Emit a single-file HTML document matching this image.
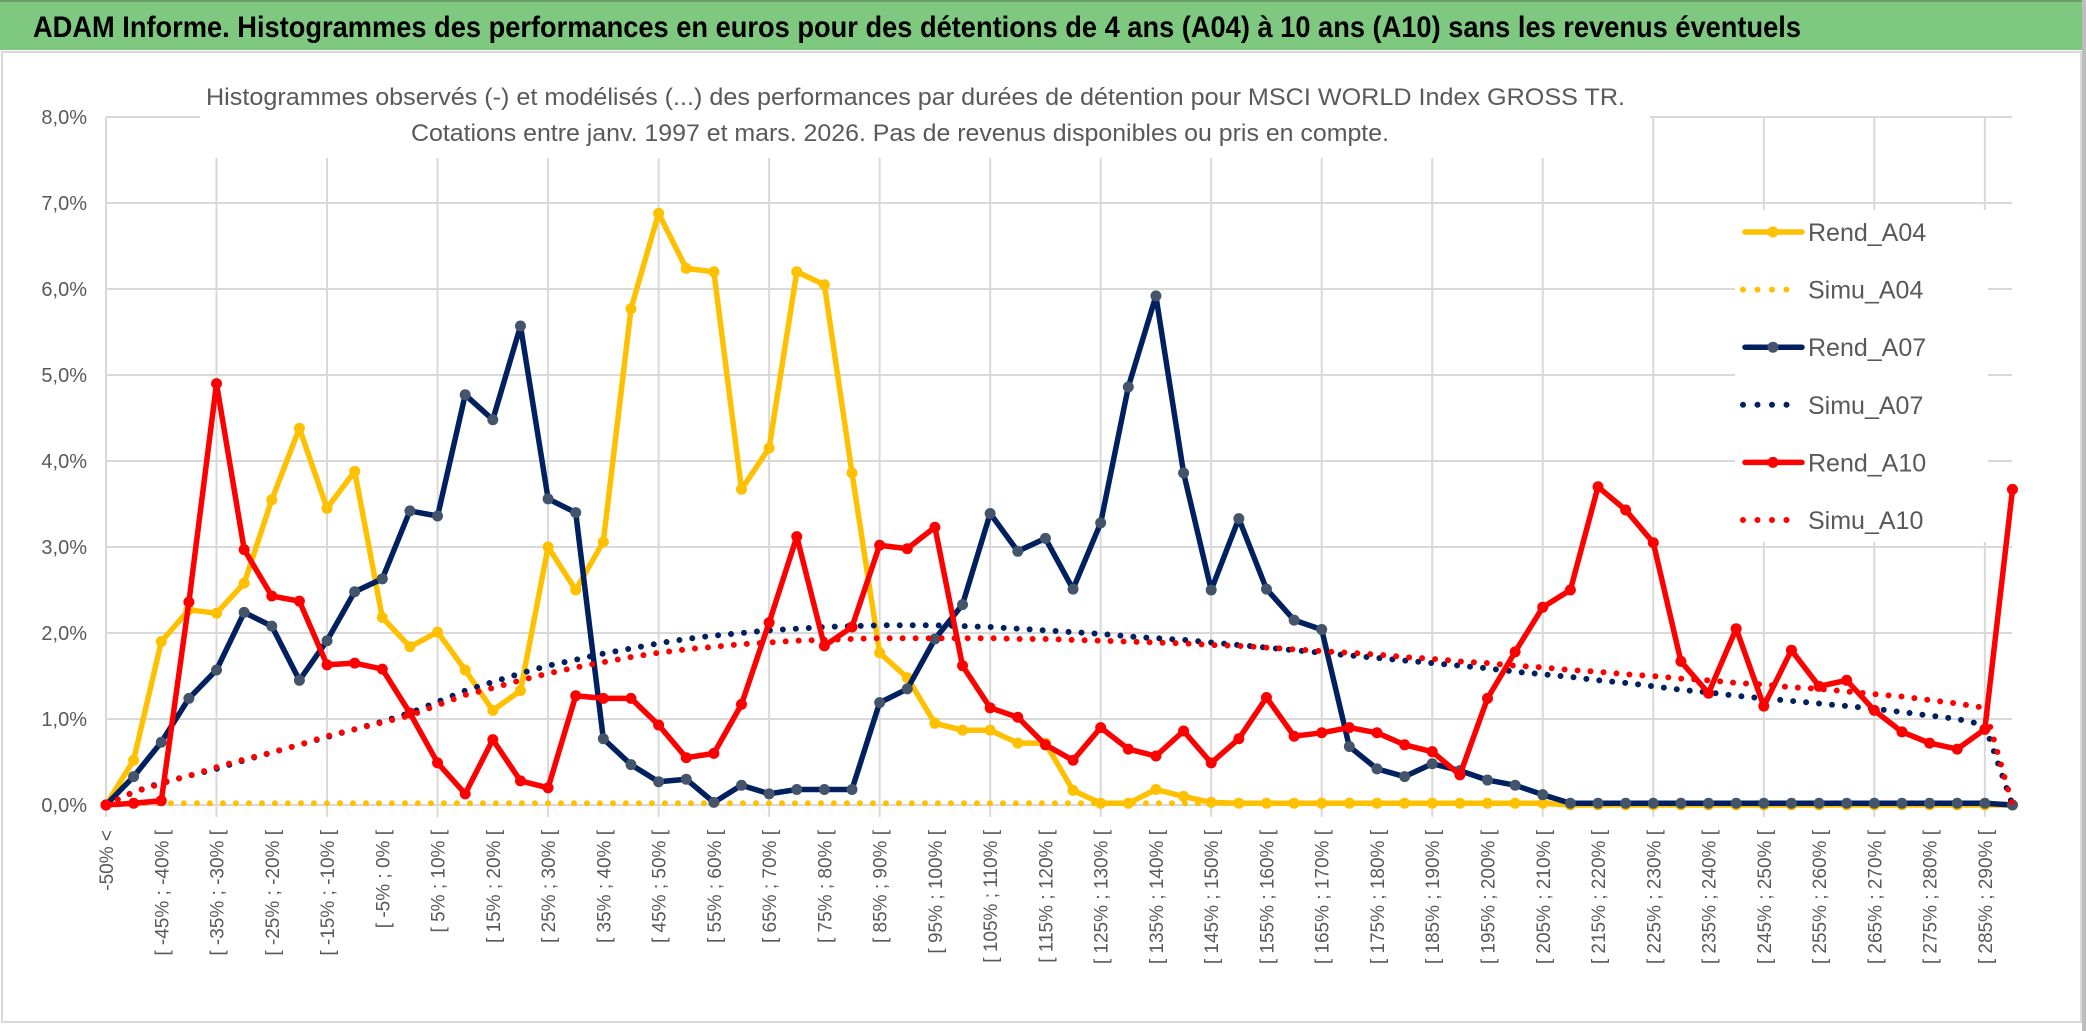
<!DOCTYPE html>
<html><head><meta charset="utf-8"><style>
html,body{margin:0;padding:0;background:#fff;}
svg{display:block;font-family:"Liberation Sans",sans-serif;}
</style></head><body>
<svg id="chart" width="2086" height="1031" viewBox="0 0 2086 1031">
<rect x="0" y="0" width="2086" height="1031" fill="#ffffff"/>
<rect x="0" y="0" width="2086" height="50" fill="#7ec87f"/>
<line x1="0" y1="1" x2="2086" y2="1" stroke="#6a9e6b" stroke-width="2"/>
<text x="33" y="37" font-size="30" font-weight="bold" fill="#000" textLength="1768" lengthAdjust="spacingAndGlyphs">ADAM Informe. Histogrammes des performances en euros pour des détentions de 4 ans (A04) à 10 ans (A10) sans les revenus éventuels</text>
<rect x="2" y="52" width="2079" height="970" fill="none" stroke="#d9d9d9" stroke-width="2"/>
<rect x="2082" y="0" width="4" height="1031" fill="#bdbdbd"/>
<g id="grid"></g>
<rect x="200" y="60" width="1450" height="98" fill="#fff"/>
<text x="206" y="105" font-size="24" fill="#595959" textLength="1419" lengthAdjust="spacingAndGlyphs">Histogrammes observés (-) et modélisés (...) des performances par durées de détention pour MSCI WORLD Index GROSS TR.</text>
<text x="411" y="141" font-size="24" fill="#595959" textLength="978" lengthAdjust="spacingAndGlyphs">Cotations entre janv. 1997 et mars. 2026. Pas de revenus disponibles ou pris en compte.</text>
<g id="series"></g>
<g id="xlabels"></g>
<g id="legend"></g>
</svg>
<script>
const categories = ["-50% <","[ -50% ; -45% [","[ -45% ; -40% [","[ -40% ; -35% [","[ -35% ; -30% [","[ -30% ; -25% [","[ -25% ; -20% [","[ -20% ; -15% [","[ -15% ; -10% [","[ -10% ; -5% [","[ -5% ; 0% [","[ 0% ; 5% [","[ 5% ; 10% [","[ 10% ; 15% [","[ 15% ; 20% [","[ 20% ; 25% [","[ 25% ; 30% [","[ 30% ; 35% [","[ 35% ; 40% [","[ 40% ; 45% [","[ 45% ; 50% [","[ 50% ; 55% [","[ 55% ; 60% [","[ 60% ; 65% [","[ 65% ; 70% [","[ 70% ; 75% [","[ 75% ; 80% [","[ 80% ; 85% [","[ 85% ; 90% [","[ 90% ; 95% [","[ 95% ; 100% [","[ 100% ; 105% [","[ 105% ; 110% [","[ 110% ; 115% [","[ 115% ; 120% [","[ 120% ; 125% [","[ 125% ; 130% [","[ 130% ; 135% [","[ 135% ; 140% [","[ 140% ; 145% [","[ 145% ; 150% [","[ 150% ; 155% [","[ 155% ; 160% [","[ 160% ; 165% [","[ 165% ; 170% [","[ 170% ; 175% [","[ 175% ; 180% [","[ 180% ; 185% [","[ 185% ; 190% [","[ 190% ; 195% [","[ 195% ; 200% [","[ 200% ; 205% [","[ 205% ; 210% [","[ 210% ; 215% [","[ 215% ; 220% [","[ 220% ; 225% [","[ 225% ; 230% [","[ 230% ; 235% [","[ 235% ; 240% [","[ 240% ; 245% [","[ 245% ; 250% [","[ 250% ; 255% [","[ 255% ; 260% [","[ 260% ; 265% [","[ 265% ; 270% [","[ 270% ; 275% [","[ 275% ; 280% [","[ 280% ; 285% [","[ 285% ; 290% [","[ 290% ; 295% ["];
const yTicks = [0,1,2,3,4,5,6,7,8];
const yTickLabels = ["0,0%","1,0%","2,0%","3,0%","4,0%","5,0%","6,0%","7,0%","8,0%"];
const rendA04 = [0,0.52,1.90,2.27,2.23,2.58,3.55,4.38,3.45,3.88,2.18,1.84,2.01,1.57,1.10,1.33,3.00,2.50,3.06,5.77,6.88,6.24,6.20,3.67,4.15,6.20,6.05,3.86,1.77,1.48,0.95,0.87,0.87,0.72,0.72,0.17,0.02,0.02,0.18,0.10,0.03,0.02,0.02,0.02,0.02,0.02,0.02,0.02,0.02,0.02,0.02,0.02,0.02,0,0,0,0,0,0,0,0,0,0,0,0,0,0,0,0,0];
const simuA04 = [0,0.02,0.02,0.02,0.02,0.02,0.02,0.02,0.02,0.02,0.02,0.02,0.02,0.02,0.02,0.02,0.02,0.02,0.02,0.02,0.02,0.02,0.02,0.02,0.02,0.02,0.02,0.02,0.02,0.02,0.02,0.02,0.02,0.02,0.02,0.02,0.02,0.02,0.02,0.02,0.02,0.02,0.02,0.02,0.02,0.02,0.02,0.02,0.02,0.02,0.02,0.02,0.02,0.02,0.02,0.02,0.02,0.02,0.02,0.02,0.02,0.02,0.02,0.02,0.02,0.02,0.02,0.02,0.02,0];
const rendA07 = [0,0.33,0.73,1.24,1.57,2.24,2.08,1.45,1.91,2.48,2.63,3.42,3.36,4.77,4.48,5.57,3.56,3.40,0.77,0.47,0.27,0.30,0.03,0.23,0.13,0.18,0.18,0.18,1.19,1.35,1.93,2.33,3.39,2.95,3.10,2.51,3.28,4.86,5.92,3.86,2.50,3.33,2.51,2.15,2.04,0.68,0.42,0.33,0.48,0.40,0.29,0.23,0.12,0.02,0.02,0.02,0.02,0.02,0.02,0.02,0.02,0.02,0.02,0.02,0.02,0.02,0.02,0.02,0.02,0];
const simuA07 = [0,0.15,0.26,0.34,0.42,0.52,0.61,0.70,0.79,0.88,0.97,1.07,1.20,1.33,1.43,1.53,1.62,1.69,1.76,1.82,1.88,1.93,1.97,2.00,2.03,2.05,2.07,2.08,2.09,2.09,2.09,2.08,2.07,2.05,2.03,2.01,1.99,1.96,1.94,1.92,1.89,1.86,1.83,1.80,1.77,1.74,1.71,1.68,1.65,1.62,1.59,1.55,1.52,1.49,1.45,1.42,1.38,1.34,1.31,1.27,1.24,1.21,1.18,1.15,1.12,1.08,1.04,1.00,0.93,0];
const rendA10 = [0,0.02,0.05,2.36,4.90,2.97,2.43,2.37,1.63,1.65,1.58,1.07,0.49,0.13,0.76,0.28,0.20,1.27,1.24,1.24,0.93,0.55,0.60,1.17,2.12,3.12,1.85,2.07,3.02,2.98,3.23,1.62,1.13,1.02,0.70,0.52,0.90,0.65,0.57,0.86,0.49,0.77,1.25,0.80,0.84,0.90,0.84,0.70,0.62,0.35,1.24,1.78,2.30,2.50,3.70,3.43,3.05,1.67,1.30,2.05,1.15,1.80,1.38,1.45,1.10,0.85,0.72,0.65,0.88,3.67];
const simuA10 = [0,0.15,0.25,0.34,0.44,0.53,0.61,0.70,0.80,0.88,0.96,1.04,1.16,1.28,1.36,1.45,1.53,1.60,1.66,1.72,1.77,1.81,1.84,1.87,1.89,1.91,1.92,1.93,1.94,1.94,1.94,1.94,1.94,1.93,1.93,1.92,1.91,1.90,1.89,1.88,1.86,1.85,1.83,1.81,1.79,1.77,1.75,1.72,1.70,1.67,1.65,1.62,1.60,1.57,1.55,1.52,1.50,1.47,1.45,1.42,1.40,1.37,1.35,1.32,1.29,1.26,1.22,1.18,1.13,0];

const NS = "http://www.w3.org/2000/svg";
const X0 = 106, DX = 27.63, Y0 = 805, DY = 86, XR = 2012;
function xs(i){ return X0 + i*DX; }
function ys(v){ return Y0 - v*DY; }
function mk(tag, attrs, parent){ const e = document.createElementNS(NS, tag); for (const k in attrs) e.setAttribute(k, attrs[k]); parent.appendChild(e); return e; }

const grid = document.getElementById('grid');
yTicks.forEach((t, i) => {
  const l = mk('line', {x1:X0, x2:XR, y1:ys(t), y2:ys(t), stroke:'#d9d9d9', 'stroke-width':2}, grid);
  
  
  const tx = mk('text', {x:87, y:ys(t)+7, 'text-anchor':'end', 'font-size':20, fill:'#595959'}, grid);
  tx.textContent = yTickLabels[i];
  
  
});
for (let i = 0; i < categories.length; i += 4) {
  const l = mk('line', {x1:xs(i), x2:xs(i), y1:ys(8), y2:Y0+12, stroke:'#d9d9d9', 'stroke-width':2}, grid);
  
  
}

const xl = document.getElementById('xlabels');
categories.forEach((c, i) => {
  if (i % 2) return;
  const x = xs(i) + 7, y = 830;
  const t = mk('text', {x:x, y:y, 'text-anchor':'end', 'font-size':19, fill:'#595959', transform:'rotate(-90 '+x+' '+y+')'}, xl);
  t.textContent = c;
  
  
});

const sg = document.getElementById('series');
function drawRend(vals, color, mfill, name){
  const g = mk('g', {}, sg);
  
  
  const pts = vals.map((v,i)=>xs(i).toFixed(1)+','+ys(v).toFixed(1)).join(' ');
  mk('polyline', {points:pts, fill:'none', stroke:color, 'stroke-width':5.5, 'stroke-linejoin':'round'}, g);
  vals.forEach((v,i)=>{
    const c = mk('circle', {cx:xs(i), cy:ys(v), r:5.5, fill:mfill}, g);
    
    
  });
}
function drawSimu(vals, color, name){
  const pts = vals.map((v,i)=>xs(i).toFixed(1)+','+ys(v).toFixed(1)).join(' ');
  const p = mk('polyline', {points:pts, fill:'none', stroke:color, 'stroke-width':6, 'stroke-linecap':'round', 'stroke-dasharray':'0 13'}, sg);
  
  
}
drawRend(rendA04, '#ffc000', '#ffc000', 'rend-a04-line');
drawSimu(simuA04, '#ffc000', 'simu-a04-line');
drawRend(rendA07, '#002060', '#44546a', 'rend-a07-line');
drawSimu(simuA07, '#002060', 'simu-a07-line');
drawRend(rendA10, '#ff0000', '#ff0000', 'rend-a10-line');
drawSimu(simuA10, '#ff0000', 'simu-a10-line');

const lg = document.getElementById('legend');
mk('rect', {x:1735, y:210, width:253, height:332, fill:'#fff'}, lg);
const legNames = ["Rend_A04","Simu_A04","Rend_A07","Simu_A07","Rend_A10","Simu_A10"];
const legColors = ["#ffc000","#ffc000","#002060","#002060","#ff0000","#ff0000"];
const legMarks = ["#ffc000",null,"#44546a",null,"#ff0000",null];
legNames.forEach((n,i)=>{
  const y = 232 + i*57.6;
  const g = mk('g', {}, lg);
  
  
  if (legMarks[i]) {
    mk('line', {x1:1745, x2:1802, y1:y, y2:y, stroke:legColors[i], 'stroke-width':5.5, 'stroke-linecap':'round'}, g);
    mk('circle', {cx:1773, cy:y, r:5.5, fill:legMarks[i]}, g);
  } else {
    mk('line', {x1:1743, x2:1800, y1:y, y2:y, stroke:legColors[i], 'stroke-width':6, 'stroke-linecap':'round', 'stroke-dasharray':'0 14.5'}, g);
  }
  const t = mk('text', {x:1808, y:y+9, 'font-size':25, fill:'#595959'}, g);
  t.textContent = n;
});
</script>
</body></html>
